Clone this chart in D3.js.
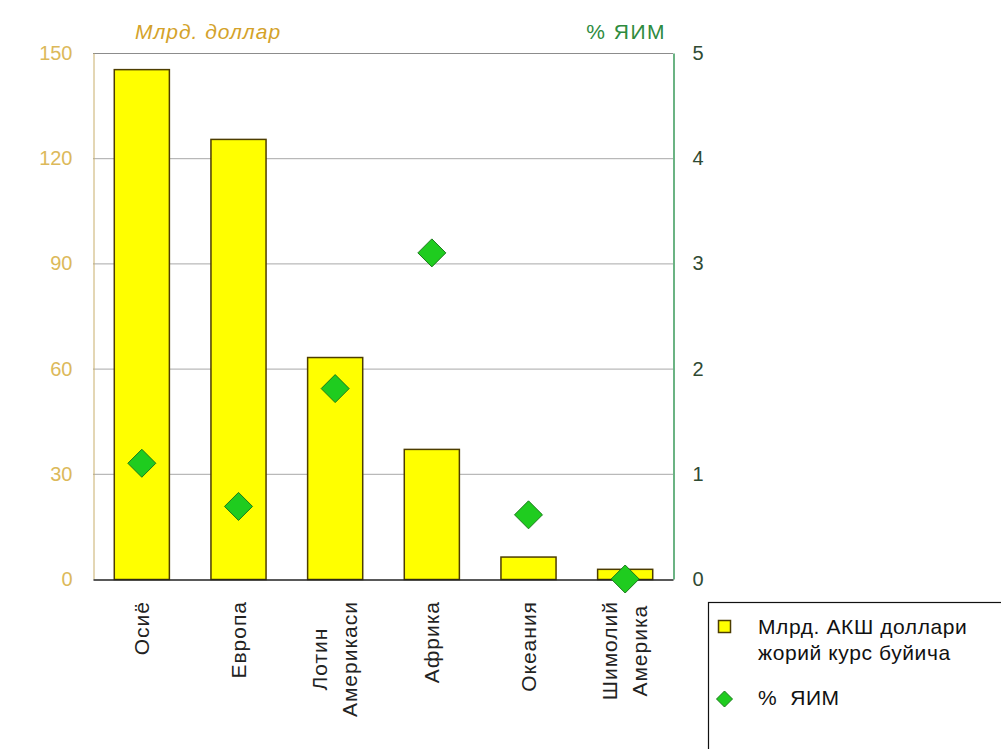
<!DOCTYPE html>
<html>
<head>
<meta charset="utf-8">
<script src="https://cdn.jsdelivr.net/npm/d3@7"></script>
<style>
  html, body { margin: 0; padding: 0; background: #ffffff; }
  svg { display: block; }
</style>
</head>
<body>
<svg id="chart" width="1001" height="749"></svg>
<script>
// ---- data ----
const categories = ["Осиё", "Европа", "Лотин\nАмерикаси", "Африка", "Океания", "Шимолий\nАмерика"];
const billionUSD = [145.4, 125.5, 63.3, 37.1, 6.4, 2.9];
const pctGDP = [1.10, 0.69, 1.81, 3.10, 0.61, 0.0];
const leftTicks = [0, 30, 60, 90, 120, 150];
const rightTicks = [0, 1, 2, 3, 4, 5];
const leftTitle = "Млрд. доллар";
const rightTitle = "% ЯИМ";
const legendLabels = ["Млрд. АКШ доллари\nжорий курс буйича", "% ЯИМ"];

// ---- layout ----
const svg = d3.select("#chart");
const L = 93, R = 673, T = 53, B = 579;
const FONT = "'Liberation Sans', Arial, sans-serif";

const x = d3.scaleBand().domain(categories).range([L, R]).paddingInner(0.43).paddingOuter(0.215);
const yL = d3.scaleLinear().domain([0, 150]).range([B, T]);
const yR = d3.scaleLinear().domain([0, 5]).range([B, T]);

// gridlines
svg.append("g").selectAll("line").data(leftTicks.filter(d => d > 0 && d < 150)).join("line")
  .attr("x1", L).attr("x2", R)
  .attr("y1", d => yL(d) + 0.5).attr("y2", d => yL(d) + 0.5)
  .attr("stroke", "#a8a8a8").attr("stroke-width", 1);

// top border
svg.append("line").attr("x1", L).attr("x2", R).attr("y1", T + 0.5).attr("y2", T + 0.5)
  .attr("stroke", "#8c8c8c").attr("stroke-width", 1);

// bars
svg.append("g").selectAll("rect").data(billionUSD).join("rect")
  .attr("x", (d, i) => x(categories[i]) + 0.5)
  .attr("y", d => yL(d) + 0.5)
  .attr("width", x.bandwidth())
  .attr("height", d => B - yL(d))
  .attr("fill", "#ffff00")
  .attr("stroke", "#4d3d00")
  .attr("stroke-width", 1.5);

// left axis
const axL = svg.append("g").attr("transform", `translate(${L + 0.5},0)`)
  .call(d3.axisLeft(yL).tickValues(leftTicks).tickSize(0).tickPadding(21));
axL.select(".domain").attr("stroke", "#c8ae6a");
axL.selectAll("text").attr("fill", "#dcb95a")
  .style("font-family", FONT)
  .style("font-size", "20px");

// right axis
const axR = svg.append("g").attr("transform", `translate(${R + 0.5},0)`)
  .call(d3.axisRight(yR).tickValues(rightTicks).tickFormat(d3.format("d")).tickSize(0).tickPadding(19));
axR.select(".domain").attr("stroke", "#3a9a5a").attr("stroke-width", 1.5);
axR.selectAll("text").attr("fill", "#2f4a33")
  .style("font-family", FONT)
  .style("font-size", "20px");

// bottom axis
const axB = svg.append("g").attr("transform", `translate(0,${B + 0.5})`)
  .call(d3.axisBottom(x).tickSize(0).tickFormat(""));
axB.select(".domain").attr("stroke", "#222").attr("stroke-width", 1.5);

// category labels (rotated)
categories.forEach((c, i) => {
  const g = svg.append("g");
  const t = g.append("text")
    .attr("transform", "rotate(-90)")
    .attr("text-anchor", "middle")
    .style("font-family", FONT)
    .style("font-size", "21px")
    .style("letter-spacing", "1px")
    .attr("fill", "#222");
  const lines = c.split("\n");
  lines.forEach((ln, j) => {
    t.append("tspan").attr("x", 0).attr("y", j * 30).text(ln);
  });
  const bb = g.node().getBBox();
  const cx = x(c) + x.bandwidth() / 2;
  g.attr("transform", `translate(${cx - (bb.x + bb.width / 2)},${601 - bb.y})`);
});

// diamonds
function diamondPath(h) {
  return `M0,${-h}L${h},0L0,${h}L${-h},0Z`;
}
svg.append("g").selectAll("path").data(pctGDP).join("path")
  .attr("d", diamondPath(14))
  .attr("transform", (d, i) => `translate(${x(categories[i]) + x.bandwidth() / 2 + 0.5},${yR(d)})`)
  .attr("fill", "#1fcc1f")
  .attr("stroke", "#1a7a1a")
  .attr("stroke-width", 1);

// axis titles
svg.append("text").attr("x", 208).attr("y", 39).attr("text-anchor", "middle")
  .style("font-family", FONT).style("font-style", "italic")
  .style("font-size", "21px").style("letter-spacing", "1px")
  .attr("fill", "#d4a22a").text(leftTitle);
svg.append("text").attr("x", 666).attr("y", 39).attr("text-anchor", "end")
  .style("font-family", FONT)
  .style("font-size", "21px").style("letter-spacing", "1.5px")
  .attr("fill", "#2e8b3e").text(rightTitle);

// legend
const lg = svg.append("g");
lg.append("rect").attr("x", 708.5).attr("y", 602.5).attr("width", 320).attr("height", 200)
  .attr("fill", "#fff").attr("stroke", "#111").attr("stroke-width", 1.2);
lg.append("rect").attr("x", 718.5).attr("y", 620.5).attr("width", 12).attr("height", 12)
  .attr("fill", "#ffff00").attr("stroke", "#4d3d00").attr("stroke-width", 1.5);
lg.append("path").attr("d", diamondPath(8)).attr("transform", "translate(724.5,699)")
  .attr("fill", "#1fcc1f").attr("stroke", "#1a7a1a");
const lt = lg.append("text").style("font-family", FONT)
  .style("font-size", "21px").style("letter-spacing", "0.6px").attr("fill", "#111");
legendLabels[0].split("\n").forEach((ln, j) => {
  lt.append("tspan").attr("x", 758).attr("y", 634 + j * 26).text(ln);
});
lg.append("text").attr("x", 758).attr("y", 705)
  .style("font-family", FONT).style("letter-spacing", "0.6px")
  .style("font-size", "21px").attr("fill", "#111").text(legendLabels[1].replace(" ", "\u00a0 "));
</script>
</body>
</html>
